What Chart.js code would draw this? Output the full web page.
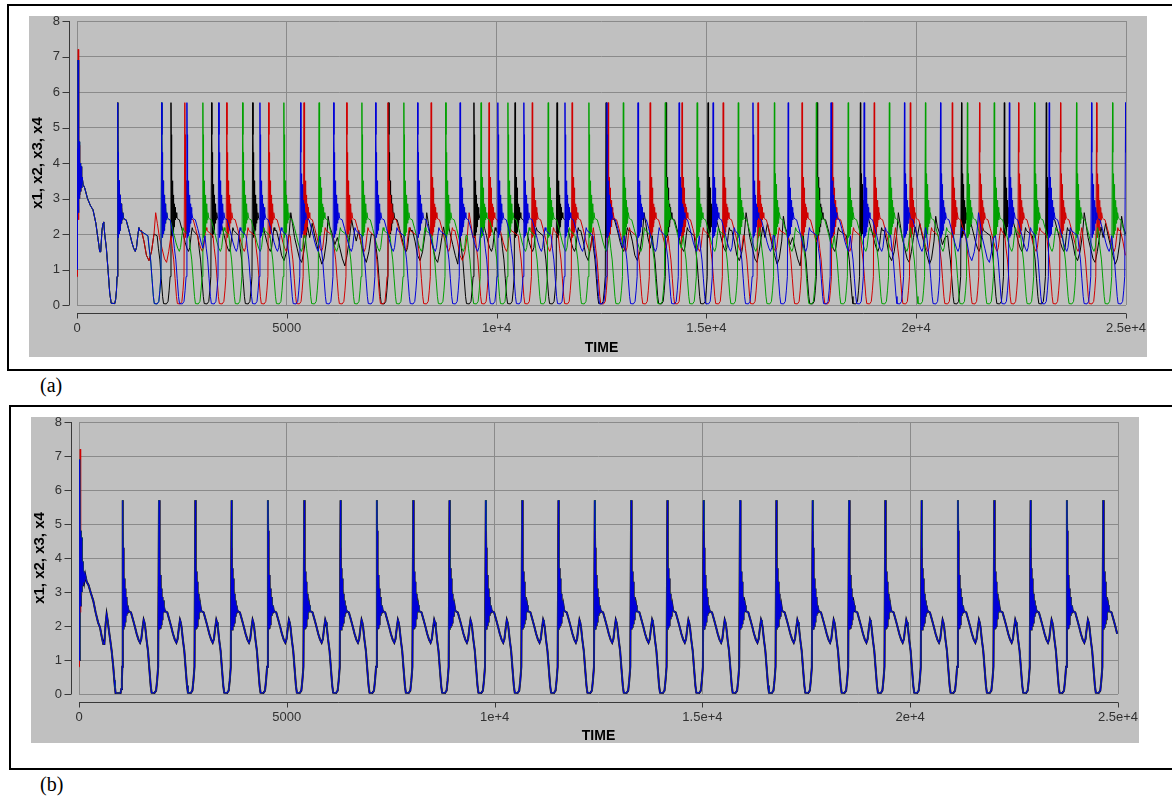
<!DOCTYPE html>
<html>
<head>
<meta charset="utf-8">
<script src="https://cdn.jsdelivr.net/npm/chart.js@4.4.1/dist/chart.umd.min.js"></script>
<style>
  body { margin: 0; width: 1172px; height: 800px; overflow: hidden; background: #fff; position: relative; }
  .box { position: absolute; border: 2px solid #000; box-sizing: border-box; width: 1200px; }
  .panel { position: absolute; background: #c0c0c0; }
  .panel canvas { display: block; }
  .tag { position: absolute; font: 20px "Liberation Serif", serif; color: #000; }
</style>
</head>
<body>
<div class="box" style="left:7px; top:4px; height:367px;"></div>
<div class="panel" style="left:29px; top:16px; width:1118px; height:341px;"><canvas id="chartA" width="1118" height="341"></canvas></div>
<div class="tag" style="left:40px; top:374px;">(a)</div>

<div class="box" style="left:9px; top:405px; height:365px;"></div>
<div class="panel" style="left:31px; top:417px; width:1108px; height:326px;"><canvas id="chartB" width="1108" height="326"></canvas></div>
<div class="tag" style="left:40px; top:773px;">(b)</div>

<script>
// ---- axes ----
const xTickLabels = ['0', '5000', '1e+4', '1.5e+4', '2e+4', '2.5e+4'];
const yTickLabels = ['0', '1', '2', '3', '4', '5', '6', '7', '8'];
const seriesNames = ['x1', 'x2', 'x3', 'x4'];
const seriesColors = ['#000000', '#d00000', '#00a000', '#0000d8'];
const T_END = 25000;

// ---- spike times, panel (a) (each variable fires on its own) ----
const spikesA_x1 = [970, 2240, 3210, 4190, 7430, 9460, 10440, 11440, 12610, 14040, 15040, 17640, 18670, 21080, 22100, 23100];
const spikesA_x2 = [970, 2570, 3570, 4570, 5410, 6430, 7410, 8440, 9820, 10850, 11800, 12660, 13660, 14420, 15400, 16230, 17280, 18000, 19000, 19860, 20860, 21510, 22440, 23440, 24300];
const spikesA_x3 = [970, 2020, 3000, 3950, 4930, 5770, 6790, 7790, 8790, 9630, 10270, 11230, 12200, 13020, 14020, 14780, 15760, 16620, 17620, 18380, 19360, 20220, 21220, 21860, 22820, 23820, 24680];
const spikesA_x4 = [970, 2020, 2620, 3380, 4360, 5330, 6120, 7120, 8120, 9130, 10030, 10650, 11630, 12630, 13370, 14350, 15160, 16110, 16950, 17970, 18760, 19720, 20580, 22220, 23170, 24180, 24990];

// ---- spike times, panel (b) (all four synchronised) ----
const spikesB = [1051, 1925, 2799, 3672, 4546, 5420, 6294, 7168, 8042, 8915, 9789, 10663, 11537, 12411, 13285, 14158, 15032, 15906, 16780, 17654, 18528, 19401, 20275, 21149, 22023, 22897, 23771, 24644];

// ---- start transients [time, value] ----
const startA = [[0, 1.0], [8, 4.4], [16, 2.4], [26, 6.9], [34, 2.6], [42, 4.7], [50, 3.0], [58, 4.6], [66, 3.1], [76, 4.0], [86, 3.2], [98, 3.9], [110, 3.3], [125, 3.6], [143, 3.4], [183, 3.3], [250, 3.0], [320, 2.8], [382, 2.68], [450, 2.3], [490, 1.95], [520, 1.7], [541, 1.5], [565, 1.5], [595, 2.1], [620, 2.3], [637, 2.34], [660, 2.0], [700, 1.6], [740, 0.98], [780, 0.34], [815, 0.05], [900, 0.04], [920, 0.15], [940, 0.4], [955, 0.8]];
const startA_x2 = [[0, 0.8], [8, 1.8], [16, 3.5], [30, 7.2], [36, 2.4], [44, 4.8], [52, 3.0], [60, 4.5], [68, 3.1], [78, 3.9], [88, 3.2], [98, 3.9], [110, 3.3], [125, 3.6], [143, 3.4], [183, 3.3], [250, 3.0], [320, 2.8], [382, 2.68], [450, 2.3], [490, 1.95], [520, 1.7], [541, 1.5], [565, 1.5], [595, 2.1], [620, 2.3], [637, 2.34], [660, 2.0], [700, 1.6], [740, 0.98], [780, 0.34], [815, 0.05], [900, 0.04], [920, 0.15], [940, 0.4], [955, 0.8]];
const startB = [[0, 1.0], [8, 4.3], [16, 2.5], [24, 6.9], [32, 2.6], [40, 4.8], [48, 2.9], [56, 4.6], [64, 3.0], [72, 4.0], [82, 3.2], [92, 3.9], [104, 3.3], [118, 3.6], [132, 3.35], [150, 3.5], [185, 3.3], [230, 3.2], [290, 2.95], [344, 2.74], [400, 2.4], [460, 2.1], [505, 1.96], [545, 1.7], [585, 1.47], [610, 1.47], [640, 2.05], [665, 2.35], [685, 2.2], [710, 1.96], [750, 1.6], [786, 1.27], [826, 0.78], [850, 0.4], [866, 0.19], [880, 0.03], [1000, 0.03], [1020, 0.15], [1032, 0.4], [1042, 0.8]];
const startB_x2 = [[0, 0.8], [8, 1.9], [16, 3.6], [30, 7.2], [36, 2.4], [44, 4.8], [52, 2.9], [60, 4.5], [68, 3.0], [76, 3.9], [86, 3.2], [94, 3.9], [104, 3.3], [118, 3.6], [132, 3.35], [150, 3.5], [185, 3.3], [230, 3.2], [290, 2.95], [344, 2.74], [400, 2.4], [460, 2.1], [505, 1.96], [545, 1.7], [585, 1.47], [610, 1.47], [640, 2.05], [665, 2.35], [685, 2.2], [710, 1.96], [750, 1.6], [786, 1.27], [826, 0.78], [850, 0.4], [866, 0.19], [880, 0.03], [1000, 0.03], [1020, 0.15], [1032, 0.4], [1042, 0.8]];

// ---- one cycle ----
// after a spike: [dt from spike, value]
const postShape = [[0, 5.7], [4, 4.8], [8, 4.3], [11, 1.9], [15, 3.7], [19, 1.95], [23, 3.6], [27, 1.95], [31, 3.5], [35, 2.0], [39, 3.4], [43, 2.0], [47, 3.3], [51, 2.05], [56, 3.1], [61, 2.1], [67, 2.95], [73, 2.2], [80, 2.85], [88, 2.3], [97, 2.75], [107, 2.4], [120, 2.6], [138, 2.45], [165, 2.42], [200, 2.4], [257, 2.15], [300, 1.95], [336, 1.77], [380, 1.6], [418, 1.51], [448, 1.62], [480, 1.96], [505, 2.18], [525, 2.1]];
// fall and rise before the next spike: [dt to next spike, value]
const dipShape = [[-330, 1.95], [-300, 1.6], [-265, 1.27], [-232, 0.74], [-200, 0.24], [-178, 0.04], [-110, 0.03], [-70, 0.1], [-45, 0.4], [-20, 0.8]];
// slow drift seen on long quiet stretches (black trace in (a))
const wanderShape = [[0, 2.1], [60, 1.8], [120, 1.4], [180, 1.25], [240, 1.5], [300, 2.0], [340, 2.6], [380, 2.3], [430, 1.9], [490, 1.6], [550, 1.3], [600, 1.2], [650, 1.5], [700, 1.9], [740, 2.2], [790, 1.9], [850, 2.3], [900, 2.0], [960, 1.7], [1020, 1.4], [1080, 1.15], [1130, 1.3], [1190, 1.8], [1230, 2.5], [1270, 2.2], [1330, 2.0], [1390, 1.7], [1450, 1.9], [1510, 1.6], [1570, 1.3], [1630, 1.1], [1680, 1.4], [1740, 1.9], [1790, 2.4], [1840, 2.1], [1900, 1.8], [1960, 2.1], [2020, 1.7], [2080, 1.4], [2140, 1.2], [2200, 1.5], [2260, 2.0], [2310, 2.6], [2360, 2.2], [2420, 1.9], [2480, 1.6], [2540, 1.3], [2600, 1.5], [2660, 2.0], [2720, 2.3], [2780, 1.9], [2840, 1.6], [2900, 1.3], [2960, 1.5], [3020, 1.9], [3080, 2.2]];

// place the read shapes at the read spike times
function buildSeries(start, spikes) {
  const pts = start.map(([x, y]) => ({ x, y }));
  spikes.forEach((s, i) => {
    const next = i + 1 < spikes.length ? spikes[i + 1] : Infinity;
    const dipStart = next + dipShape[0][0];
    let last = s;
    postShape.forEach(([dt, y]) => {
      if (s + dt < dipStart - 15 && s + dt <= T_END) { pts.push({ x: s + dt, y }); last = s + dt; }
    });
    if (dipStart - last > 250) {
      const base = last + 40;
      wanderShape.forEach(([dt, y]) => {
        const x = base + dt;
        if (x < dipStart - 40 && x <= T_END) { pts.push({ x, y }); last = x; }
      });
    }
    if (next !== Infinity) {
      dipShape.forEach(([dt, y]) => { if (next + dt > last) pts.push({ x: next + dt, y }); });
    }
  });
  return pts;
}

const dataA = [
  buildSeries(startA, spikesA_x1),
  buildSeries(startA_x2, spikesA_x2),
  buildSeries(startA, spikesA_x3),
  buildSeries(startA, spikesA_x4),
];
const dataB = [
  buildSeries(startB, spikesB),
  buildSeries(startB_x2, spikesB),
  buildSeries(startB, spikesB),
  buildSeries(startB, spikesB),
];

// axis lines sit a few pixels away from the plot, like the original tool
const axisLines = {
  id: 'axisLines',
  afterDraw(chart) {
    const { ctx, chartArea: a, scales: { x, y } } = chart;
    const ax = Math.round(a.left - 8) + 0.5;
    const ay = Math.round(a.bottom + 8) + 0.5;
    ctx.save();
    ctx.strokeStyle = '#383838';
    ctx.lineWidth = 1;
    ctx.beginPath();
    ctx.moveTo(ax, a.top); ctx.lineTo(ax, a.bottom);
    y.ticks.forEach(t => {
      const py = Math.round(y.getPixelForValue(t.value)) + 0.5;
      ctx.moveTo(ax - 7, py); ctx.lineTo(ax, py);
    });
    ctx.moveTo(a.left, ay); ctx.lineTo(a.right, ay);
    x.ticks.forEach(t => {
      const px = Math.round(x.getPixelForValue(t.value)) + 0.5;
      ctx.moveTo(px, ay); ctx.lineTo(px, ay + 5);
    });
    ctx.stroke();
    ctx.restore();
  }
};

function makeChart(id, data, pad, xAxisHeight, titlePad, widths) {
  const tickFont = { family: '"Liberation Sans", Arial, sans-serif', size: 13 };
  const titleFont = { family: '"Liberation Sans", Arial, sans-serif', size: 14, weight: 'bold', lineHeight: 1 };
  return new Chart(document.getElementById(id), {
    type: 'line',
    data: {
      datasets: data.map((pts, i) => ({
        label: seriesNames[i],
        data: pts,
        borderColor: seriesColors[i],
        borderWidth: widths[i],
        pointRadius: 0,
        tension: 0,
        fill: false,
        order: 3 - i,
      })),
    },
    options: {
      responsive: false,
      animation: false,
      parsing: false,
      normalized: true,
      devicePixelRatio: 1,
      events: [],
      layout: { padding: pad },
      plugins: { legend: { display: false }, tooltip: { enabled: false } },
      scales: {
        x: {
          type: 'linear', min: 0, max: T_END,
          grid: { color: '#8a8a8a', lineWidth: 1, drawTicks: false },
          border: { display: false },
          ticks: {
            stepSize: 5000, autoSkip: false, maxRotation: 0, padding: 16,
            color: '#303030', font: tickFont,
            callback: (v, i) => xTickLabels[i],
          },
          title: { display: true, text: 'TIME', color: '#000', font: titleFont, padding: { top: 0, bottom: titlePad } },
          afterFit: s => { s.height = xAxisHeight; s.paddingLeft = 0; s.paddingRight = 0; },
        },
        y: {
          min: 0, max: 8,
          grid: { color: '#8a8a8a', lineWidth: 1, drawTicks: false },
          border: { display: false },
          ticks: {
            stepSize: 1, padding: 17, color: '#303030', font: tickFont,
            callback: (v, i) => yTickLabels[i],
          },
          title: { display: true, text: 'x1, x2, x3, x4', color: '#000', font: { ...titleFont, size: 15 }, padding: { top: 1, bottom: 0 } },
          afterFit: s => { s.width = 48; s.paddingTop = 0; s.paddingBottom = 0; },
        },
      },
    },
    plugins: [axisLines],
  });
}

makeChart('chartA', dataA, { top: 5, right: 21, left: 0, bottom: 0 }, 52, 2, [1, 1, 1, 1]);
makeChart('chartB', dataB, { top: 5, right: 21, left: 0, bottom: 0 }, 49, 0, [2, 1, 1, 1.2]);
</script>
</body>
</html>
